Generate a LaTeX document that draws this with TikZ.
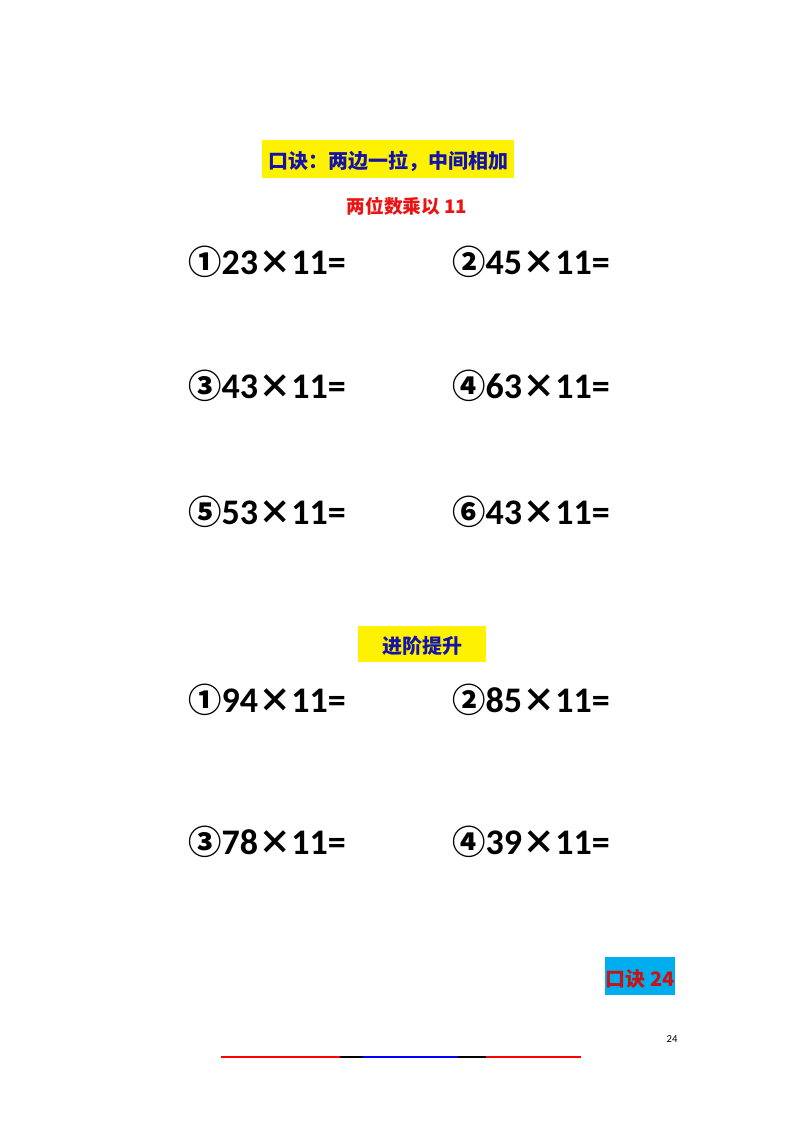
\documentclass[tikz,border=0pt]{standalone}
\usepackage{fontspec}
\setmainfont{Carlito}
\newfontfamily\cjk{Noto Sans CJK SC}
\definecolor{tblue}{RGB}{20,20,170}
\definecolor{tred}{RGB}{235,20,20}
\definecolor{dred}{RGB}{200,20,20}
\tikzset{eq/.style={anchor=west,inner sep=0pt,font=\fontsize{27}{30}\selectfont\bfseries},
 hl/.style={inner sep=0pt,minimum height=28.5pt}}
\newcommand\eqn[2]{{\cjk\fontsize{25}{30}\selectfont #1}#2{\cjk\fontsize{25}{30}\selectfont ×}11=}
\begin{document}
\begin{tikzpicture}[x=0.75pt,y=-0.75pt]
\useasboundingbox (0,0) rectangle (800,1132);
\fill[yellow] (262,140) rectangle (514,178);
\node[font=\cjk\bfseries\fontsize{15}{18}\selectfont,text=tblue] (t) at (388,161) {口诀：两边一拉，中间相加};
\node[font=\cjk\bfseries\fontsize{14}{17}\selectfont,text=tred] (s) at (407,206) {两位数乘以 11};
\node[eq] (e1) at (188,262) {\eqn{①}{23}};
\node[eq] (e2) at (452,262) {\eqn{②}{45}};
\node[eq] (e3) at (188,386) {\eqn{③}{43}};
\node[eq] (e4) at (452,386) {\eqn{④}{63}};
\node[eq] (e5) at (188,512) {\eqn{⑤}{53}};
\node[eq] (e6) at (452,512) {\eqn{⑥}{43}};
\fill[yellow] (358,626) rectangle (486,662);
\node[font=\cjk\bfseries\fontsize{15}{18}\selectfont,text=tblue] (a) at (422,646) {进阶提升};
\node[eq] (f1) at (188,700) {\eqn{①}{94}};
\node[eq] (f2) at (452,700) {\eqn{②}{85}};
\node[eq] (f3) at (188,842) {\eqn{③}{78}};
\node[eq] (f4) at (452,842) {\eqn{④}{39}};
\fill[cyan] (605,957) rectangle (675,995);
\node[font=\cjk\bfseries\fontsize{15}{18}\selectfont,text=dred] (k) at (640,979) {口诀 24};
\node[font=\fontsize{8}{10}\selectfont] (p) at (672,1039) {24};
\draw[red,line width=1pt] (221,1057) -- (340,1057);
\draw[black,line width=1pt] (340,1057) -- (363,1057);
\draw[blue,line width=1pt] (363,1057) -- (458,1057);
\draw[black,line width=1pt] (458,1057) -- (486,1057);
\draw[red,line width=1pt] (486,1057) -- (581,1057);
\end{tikzpicture}
\end{document}
